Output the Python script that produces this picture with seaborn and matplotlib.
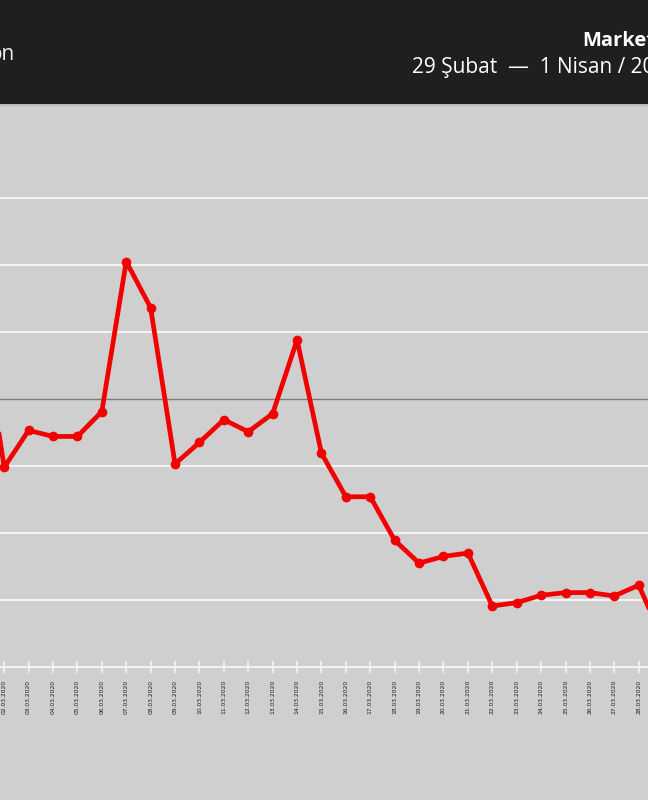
"""Market trafik grafiği (29 Şubat — 1 Nisan 2020), kırpılmış görünüm."""

import matplotlib

matplotlib.use("Agg")
import matplotlib.pyplot as plt
import numpy as np
import pandas as pd
import seaborn as sns

# Values (baseline 100 = dark reference line)
dates = [
    "01.03.2020", "02.03.2020", "03.03.2020", "04.03.2020", "05.03.2020",
    "06.03.2020", "07.03.2020", "08.03.2020", "09.03.2020", "10.03.2020",
    "11.03.2020", "12.03.2020", "13.03.2020", "14.03.2020", "15.03.2020",
    "16.03.2020", "17.03.2020", "18.03.2020", "19.03.2020", "20.03.2020",
    "21.03.2020", "22.03.2020", "23.03.2020", "24.03.2020", "25.03.2020",
    "26.03.2020", "27.03.2020", "28.03.2020", "29.03.2020",
]
values = [
    113.5, 89.8, 95.3, 94.4, 94.4,
    98.1, 120.5, 113.6, 90.3, 93.5,
    96.9, 95.1, 97.8, 108.8, 91.9,
    85.4, 85.4, 78.9, 75.5, 76.5,
    77.0, 69.1, 69.6, 70.7, 71.1,
    71.1, 70.6, 72.2, 64.0,
]
grid_levels = [70, 80, 90, 110, 120, 130]
baseline = 100

title_left = "on"
title_right = "Market"
subtitle = "29 Şubat  —  1 Nisan / 2020"

BG = "#cfcfcf"
HEADER = "#1f1f1f"
RED = "#f20000"

df = pd.DataFrame({"day": np.arange(len(dates)), "value": values})

sns.set_theme(style="white")
plt.rcParams["font.family"] = ["Open Sans", "DejaVu Sans"]

fig = plt.figure(figsize=(6.48, 8.0), dpi=100, facecolor=BG)

# dark header band
header = fig.add_axes([0, 1 - 104 / 800, 1, 104 / 800])
header.set_xlim(0, 648)
header.set_ylim(104, 0)
header.axis("off")
header.add_patch(plt.Rectangle((0, 0), 648, 104, color=HEADER))
header.text(15, 55, title_left, color="#f0f0f0", fontsize=15, ha="right",
            va="center")
header.text(582, 41, title_right, color="white", fontsize=14.5, ha="left",
            va="center", fontweight="bold")
header.text(412, 67, subtitle, color="white", fontsize=15, ha="left",
            va="center")
fig.add_artist(plt.Line2D([0, 1], [1 - 104.5 / 800] * 2, color="#b5b5b5",
                          lw=1.2, transform=fig.transFigure))

# plot area
ax = fig.add_axes([0, 1 - 667 / 800, 1, (667 - 104) / 800])
ax.set_facecolor(BG)

for lvl in grid_levels:
    ax.axhline(lvl, color="#f2f2f2", lw=1.5, zorder=1)
ax.axhline(baseline, color="#7d7d7d", lw=1.0, zorder=1)

sns.lineplot(data=df, x="day", y="value", ax=ax, color=RED, lw=3.4,
             marker="o", markersize=7, markeredgewidth=0, zorder=3)

ax.set_xticks(df["day"])
ax.set_xticklabels(dates, rotation=90, fontsize=4.3, color="#1e1e1e",
                   family="DejaVu Sans")
ax.set_xlim(0.828, 27.38)
ax.set_ylim(60, 144)
ax.tick_params(axis="x", direction="inout", length=8, width=1.2,
               color="#f2f2f2", pad=5, bottom=True)
ax.set_yticks([])
ax.set_xlabel("")
ax.set_ylabel("")
for side in ["top", "left", "right"]:
    ax.spines[side].set_visible(False)
ax.spines["bottom"].set_color("#f2f2f2")
ax.spines["bottom"].set_linewidth(1.5)

fig.savefig("out.png", dpi=100, facecolor=BG)
plt.close(fig)
